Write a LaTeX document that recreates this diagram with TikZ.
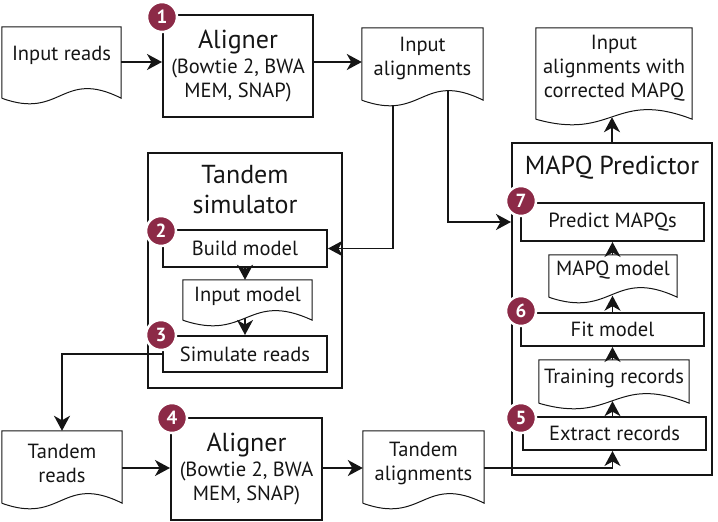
\documentclass[tikz,border=0pt]{standalone}
\usepackage{fontspec}
\setmainfont{PT Sans}
\usetikzlibrary{arrows.meta,calc}
\definecolor{txt}{HTML}{151515}
\definecolor{badgec}{HTML}{8C2A47}
\newcommand\bodyfont{\fontsize{20.5}{24}\selectfont}
\newcommand\titlefont{\fontsize{26}{30}\selectfont}
\newcommand\docout[2]{%
  \draw[docline] ([yshift=-#2pt]#1.south west) -- (#1.north west) -- (#1.north east) -- ([yshift=-#2pt]#1.south east)
    .. controls ($(#1.south)+(0,-#2pt)+(0,30pt)$) and ($(#1.south)+(0,-#2pt)+(0,-22pt)$) .. ([yshift=-#2pt]#1.south west);}
\begin{document}
\begin{tikzpicture}[x=1pt,y=-1pt,
  box/.style={draw=txt, line width=2pt, align=center, inner sep=0pt, font=\bodyfont, text=txt},
  frame/.style={draw=txt, line width=2pt, inner sep=0pt},
  docn/.style={align=center, inner sep=0pt, font=\bodyfont, text=txt},
  docline/.style={draw=txt, line width=1pt},
  conn/.style={draw=txt, line width=1.7pt, -{Stealth[length=15pt,width=16pt,inset=4.5pt]}},
  titletext/.style={font=\titlefont, align=center, text=txt, inner sep=0pt},
  badge/.style={circle, fill=badgec, draw=white, line width=2.5pt, minimum size=30pt, inner sep=0pt, text=white, font=\fontsize{19}{19}\selectfont\bfseries}]
\useasboundingbox (0,0) rectangle (718,522);

% top row
\node[docn, minimum width=119pt, minimum height=56pt] (inr) at (61.5,55) {Input reads};
\docout{inr}{15}
\node[box, minimum width=150pt, minimum height=102pt] (al1) at (238,66) {{\titlefont Aligner}\\[1pt](Bowtie 2, BWA\\MEM, SNAP)};
\node[docn, minimum width=121pt, minimum height=60pt] (ina) at (422.5,58) {Input\\alignments};
\docout{ina}{12}
\node[docn, minimum width=156pt, minimum height=80pt] (outd) at (614,68) {Input\\alignments with\\corrected MAPQ};
\docout{outd}{11}

% MAPQ predictor
\node[frame, minimum width=200pt, minimum height=332pt] (mp) at (612,309) {};
\node[titletext] (mpt) at (612,168) {MAPQ Predictor};
\node[box, minimum width=183pt, minimum height=38pt] (pm) at (612.5,222) {Predict MAPQs};
\node[docn, minimum width=128pt, minimum height=30pt] (mm) at (613,270) {MAPQ model};
\docout{mm}{12}
\node[box, minimum width=183pt, minimum height=33pt] (fm) at (612.5,329.5) {Fit model};
\node[docn, minimum width=150pt, minimum height=36pt] (tr) at (614,378) {Training records};
\docout{tr}{7}
\node[box, minimum width=183pt, minimum height=33pt] (er) at (614.5,433.5) {Extract records};

% Tandem simulator
\node[frame, minimum width=194pt, minimum height=235pt] (ts) at (245,270.5) {};
\node[titletext] (tst) at (245,190) {Tandem\\simulator};
\node[box, minimum width=164pt, minimum height=37pt] (bm) at (245,248.5) {Build model};
\node[docn, minimum width=129pt, minimum height=32pt] (im) at (247.5,296) {Input model};
\docout{im}{8}
\node[box, minimum width=164pt, minimum height=36pt] (sr) at (245,354) {Simulate reads};

% bottom row
\node[docn, minimum width=120pt, minimum height=64pt] (trd) at (62,463) {Tandem\\reads};
\docout{trd}{8}
\node[box, minimum width=151pt, minimum height=102pt] (al4) at (246.5,469) {{\titlefont Aligner}\\[1pt](Bowtie 2, BWA\\MEM, SNAP)};
\node[docn, minimum width=121pt, minimum height=64pt] (ta) at (423.5,463) {Tandem\\alignments};
\docout{ta}{8}

% connectors
\coordinate (inaL) at (393,105.5);
\coordinate (inaR) at (448,90.5);
\draw[conn] ([yshift=-7pt]inr.east) -- ([yshift=4pt]al1.west);
\draw[conn] ([yshift=4pt]al1.east) -- ([yshift=-4pt]ina.west);
\draw[conn] (inaL) |- (bm.east);
\draw[conn] (inaR) |- (mp.west |- pm.west);
\draw[conn] (mp.north) -- ($(outd.south -| mp.north)+(0,-9pt)$);
\draw[conn] (mm.north -| pm.south) -- (pm.south);
\draw[conn] (fm.north) -- ($(mm.south -| fm.north)+(0,-10.5pt)$);
\draw[conn] (tr.north -| fm.south) -- (fm.south);
\draw[conn] (er.north -| fm.south) -- ($(tr.south -| fm.south)+(0,-5pt)$);
\draw[conn] ([yshift=-5pt]ta.east) -| (er.south -| fm.south);
\draw[conn] (bm.south) -- (bm.south |- im.north);
\draw[conn] ($(im.south -| bm.south)+(0,-6pt)$) -- (sr.north);
\draw[conn] (sr.west) -| (trd.north);
\draw[conn] ([yshift=-5pt]trd.east) -- ([yshift=1pt]al4.west);
\draw[conn] ([yshift=1pt]al4.east) -- ([yshift=-5pt]ta.west);

% badges
\node[badge] (b1) at (162,17) {1};
\node[badge] (b2) at (161,231) {2};
\node[badge] (b3) at (161,335) {3};
\node[badge] (b4) at (172,418) {4};
\node[badge] (b5) at (521,418) {5};
\node[badge] (b6) at (521,311) {6};
\node[badge] (b7) at (521,201) {7};
\end{tikzpicture}
\end{document}
